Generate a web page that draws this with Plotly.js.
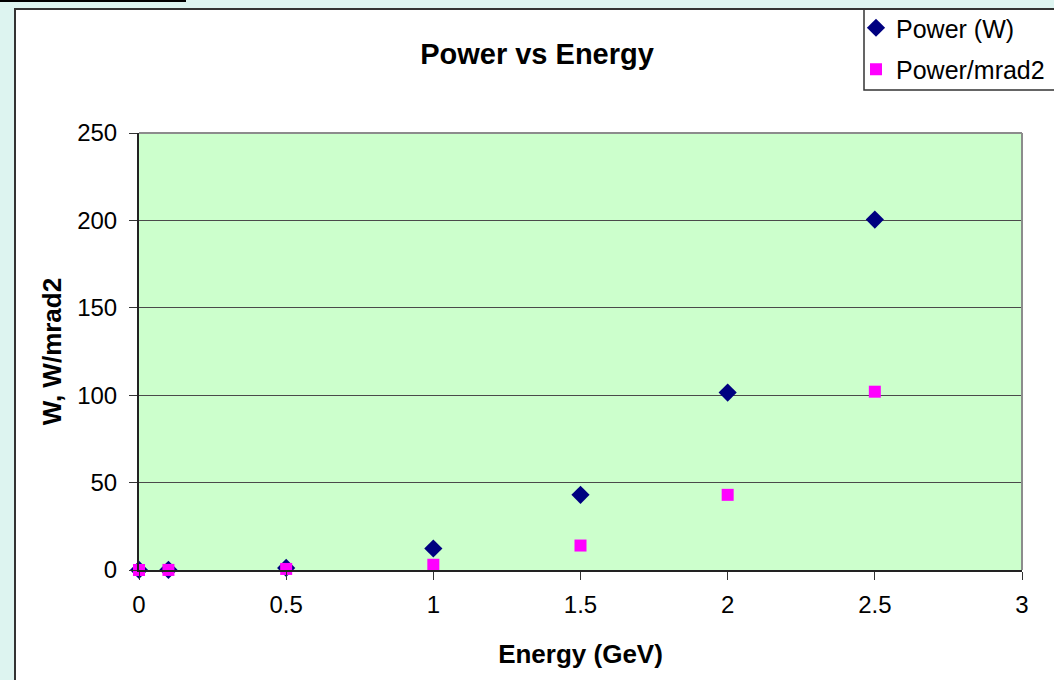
<!DOCTYPE html>
<html>
<head>
<meta charset="utf-8">
<script src="https://cdn.plot.ly/plotly-3.0.1.min.js"></script>
<style>
  html, body { margin: 0; padding: 0; background: #DDF4F0; width: 1054px; height: 680px; overflow: hidden; }
  #topline { position: absolute; left: 0; top: 0; width: 186px; height: 2px; background: #000; }
  #chart { position: absolute; left: 14px; top: 8px; width: 1038px; height: 670px;
           border-left: 2px solid #333; border-top: 2px solid #333; background: #fff; }
</style>
</head>
<body>
<div id="topline"></div>
<div id="chart"></div>
<script>
// Data
const energyGeV = [0, 0.1, 0.5, 1, 1.5, 2, 2.5];
const powerW = [0.02, 0.1, 1.2, 12.3, 43, 101.5, 200.5];
const powerPerMrad2 = [0.01, 0.05, 0.6, 3, 14, 43, 102];
const seriesNames = ['Power (W)', 'Power/mrad2'];
const titleText = 'Power vs Energy';
const xTitleText = 'Energy (GeV)';
const yTitleText = 'W, W/mrad2';

const W = 1038, H = 670;
const M = { l: 123, r: 32, t: 123, b: 110, autoexpand: false };
const pw = W - M.l - M.r, ph = H - M.t - M.b;
// convert page pixel (absolute) to paper coordinates of the plot div (origin 16,10)
const px = x => (x - 16 - M.l) / pw;
const py = y => 1 - (y - 10 - M.t) / ph;

const FONT = 'Liberation Sans, Arial, sans-serif';

const traces = [
  { x: energyGeV, y: powerW, name: seriesNames[0], type: 'scatter', mode: 'markers',
    legendgroup: 'a', cliponaxis: false,
    marker: { symbol: 'diamond', size: 14, color: '#000080' } },
  { x: energyGeV, y: powerPerMrad2, name: seriesNames[1], type: 'scatter', mode: 'markers',
    legendgroup: 'b', cliponaxis: false,
    marker: { symbol: 'square', size: 12, color: '#FF00FF' } }
];

const layout = {
  width: W, height: H,
  margin: M,
  paper_bgcolor: '#FFFFFF',
  plot_bgcolor: '#CCFFCC',
  font: { family: FONT, color: '#000', size: 24 },
  title: { text: '<b>' + titleText + '</b>', font: { family: FONT, size: 29, color: '#000' },
           xref: 'container', yref: 'container', x: 521 / W, xanchor: 'center',
           y: 1 - 44 / H, yanchor: 'middle' },
  xaxis: {
    range: [0, 3], dtick: 0.5, tick0: 0,
    showgrid: false, zeroline: false,
    showline: true, linecolor: '#222', linewidth: 2,
    ticks: 'outside', ticklen: 8, tickcolor: '#333', tickwidth: 1,
    tickfont: { family: FONT, size: 24, color: '#000' },
    ticklabelstandoff: 4,
    title: { text: '<b>' + xTitleText + '</b>', font: { family: FONT, size: 26, color: '#000' }, standoff: 28 },
    fixedrange: true
  },
  yaxis: {
    range: [0, 250], dtick: 50, tick0: 0,
    showgrid: true, gridcolor: '#4a4a4a', gridwidth: 1.2,
    zeroline: false,
    showline: true, linecolor: '#222', linewidth: 2,
    ticks: 'outside', ticklen: 8, tickcolor: '#333', tickwidth: 1,
    tickfont: { family: FONT, size: 24, color: '#000' },
    ticklabelstandoff: 7,
    title: { text: '<b>' + yTitleText + '</b>', font: { family: FONT, size: 26, color: '#000' }, standoff: 8 },
    fixedrange: true
  },
  showlegend: true,
  legend: {
    x: px(856), y: py(5), xanchor: 'left', yanchor: 'top',
    bgcolor: 'rgba(0,0,0,0)', borderwidth: 0,
    font: { family: FONT, size: 25, color: '#000' },
    tracegroupgap: 6, itemwidth: 30
  },
  shapes: [
    // top and right border of plot area (gray)
    { type: 'line', xref: 'x domain', yref: 'y domain', x0: 0, x1: 1, y0: 1, y1: 1,
      line: { color: '#8c8c8c', width: 2 }, layer: 'above' },
    { type: 'line', xref: 'x domain', yref: 'y domain', x0: 1, x1: 1, y0: 0, y1: 1,
      line: { color: '#8c8c8c', width: 2 }, layer: 'above' },
    // legend box
    { type: 'rect', xref: 'paper', yref: 'paper', x0: px(864), x1: px(1070), y0: py(9), y1: py(90),
      line: { color: '#333', width: 1.5 }, fillcolor: 'rgba(0,0,0,0)', layer: 'above' }
  ]
};

Plotly.newPlot('chart', traces, layout, { displayModeBar: false, staticPlot: true });
</script>
</body>
</html>
